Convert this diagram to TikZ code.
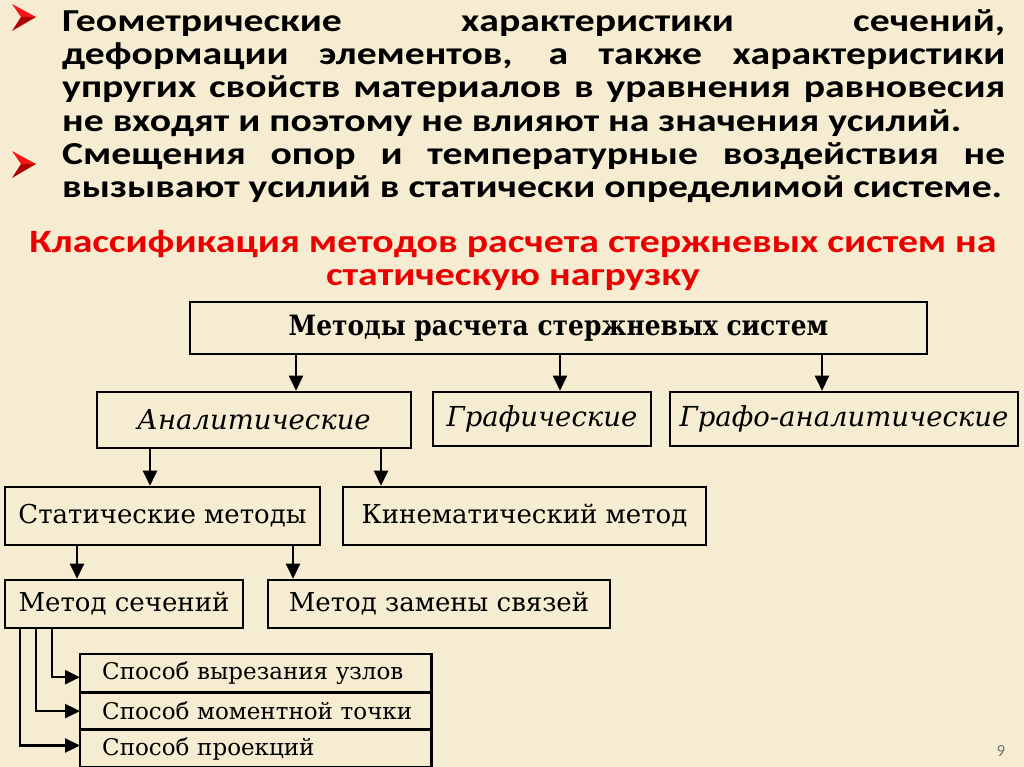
\documentclass[tikz,border=0pt]{standalone}
\usepackage{fontspec}
\setmainfont{Carlito}
\newfontfamily\dser{DejaVu Serif}
\usetikzlibrary{arrows.meta}
\definecolor{bg}{RGB}{245,236,210}
\definecolor{redt}{RGB}{235,0,0}
\definecolor{bulup}{RGB}{250,20,20}
\definecolor{buldn}{RGB}{175,0,0}
\newcommand{\wline}[1]{\scalebox{1.24}[1]{#1}}
\newcommand{\jline}[1]{\scalebox{1.24}[1]{\makebox[760.5pt][s]{#1}}}
\tikzset{
  box/.style={draw=black, line width=2.6pt, inner sep=0pt, font=\dser\fontsize{26}{28}\selectfont},
  ibox/.style={box, font=\dser\itshape\fontsize{27.5}{28}\selectfont},
  rowbox/.style={draw=black, line width=1.4pt, inner xsep=10.5pt, inner ysep=0pt, text width=329pt, align=left, font=\dser\fontsize{23}{26}\selectfont},
  arr/.style={line width=2.3pt, -{Triangle[length=15pt,width=14pt]}},
  body/.style={anchor=base west, inner sep=0pt, font=\bfseries\fontsize{32}{33}\selectfont},
  rtitle/.style={anchor=base, inner sep=0pt, text=redt, font=\bfseries\fontsize{32.5}{33}\selectfont}
}
\begin{document}
\begin{tikzpicture}[x=1pt,y=-1pt]
\fill[bg] (0,0) rectangle (1024,767);
\useasboundingbox (0,0) rectangle (1024,767);
% bullets
\fill[bulup] (12,4) -- (36,17) -- (21,17) -- cycle;
\fill[buldn] (21,17) -- (36,17) -- (12,31) -- cycle;
\fill[bulup] (12,151) -- (36,164) -- (21,164) -- cycle;
\fill[buldn] (21,164) -- (36,164) -- (12,178) -- cycle;
% body text
\node[body] (t1) at (62,32) {\jline{Геометрические характеристики сечений,}};
\node[body] (t2) at (62,65) {\jline{деформации элементов, а также характеристики}};
\node[body] (t3) at (62,98) {\jline{упругих свойств материалов в уравнения равновесия}};
\node[body] (t4) at (62,132) {\wline{не входят и поэтому не влияют на значения усилий.}};
\node[body] (t5) at (62,165) {\jline{Смещения опор и температурные воздействия не}};
\node[body] (t6) at (62,198) {\wline{вызывают усилий в статически определимой системе.}};
% red title
\node[rtitle] (h1) at (513,252) {\scalebox{1.225}[1]{Классификация методов расчета стержневых систем на}};
\node[rtitle] (h2) at (513,285) {\scalebox{1.225}[1]{статическую нагрузку}};
% diagram
\node[box, minimum width=737pt, minimum height=52pt] (m) at (558.5,328) {\scalebox{0.89}[1]{\fontsize{28}{30}\selectfont\bfseries Методы расчета стержневых систем}};
\node[ibox, minimum width=314pt, minimum height=56pt] (a) at (254,420) {Аналитические};
\node[ibox, minimum width=218pt, minimum height=54pt] (g) at (542,419) {Графические};
\node[ibox, minimum width=348pt, minimum height=54pt] (ga) at (844,419) {Графо-аналитические};
\node[box, minimum width=315pt, minimum height=58pt] (s) at (162.5,516) {Статические методы};
\node[box, minimum width=363pt, minimum height=58pt] (k) at (524.5,516) {Кинематический метод};
\node[box, minimum width=238pt, minimum height=48pt] (ms) at (124,604) {Метод сечений};
\node[box, minimum width=342pt, minimum height=48pt] (mz) at (439,604) {Метод замены связей};
\node[rowbox, minimum height=37pt, anchor=north west] (r1) at (80,654) {\hspace*{11pt}Способ вырезания узлов};
\node[rowbox, minimum height=36pt, anchor=north] (r2) at (r1.south) {\hspace*{11pt}Способ моментной точки};
\node[rowbox, minimum height=36pt, anchor=north] (r3) at (r2.south) {\hspace*{11pt}Способ проекций};
\draw[line width=2.8pt] (r1.north west) rectangle (r3.south east);
% arrows
\coordinate (x1) at (296,0);
\coordinate (x2) at (560,0);
\coordinate (x3) at (822,0);
\coordinate (x4) at (150,0);
\coordinate (x5) at (381,0);
\coordinate (x6) at (77,0);
\coordinate (x7) at (293,0);
\coordinate (c1) at (52,0);
\coordinate (c2) at (36,0);
\coordinate (c3) at (20,0);
\draw[arr] (x1 |- m.south) -- (x1 |- a.north);
\draw[arr] (x2 |- m.south) -- (x2 |- g.north);
\draw[arr] (x3 |- m.south) -- (x3 |- ga.north);
\draw[arr] (x4 |- a.south) -- (x4 |- s.north);
\draw[arr] (x5 |- a.south) -- (x5 |- k.north);
\draw[arr] (x6 |- s.south) -- (x6 |- ms.north);
\draw[arr] (x7 |- s.south) -- (x7 |- mz.north);
\draw[arr] (c1 |- ms.south) |- ([yshift=-4pt]r1.west);
\draw[arr] (c2 |- ms.south) |- (r2.west);
\draw[arr] (c3 |- ms.south) |- ([yshift=3pt]r3.west);
% page number
\node[anchor=base, inner sep=0pt, text=black!55, font=\fontsize{17}{17}\selectfont] (pn) at (1001,756) {9};
\end{tikzpicture}
\end{document}
